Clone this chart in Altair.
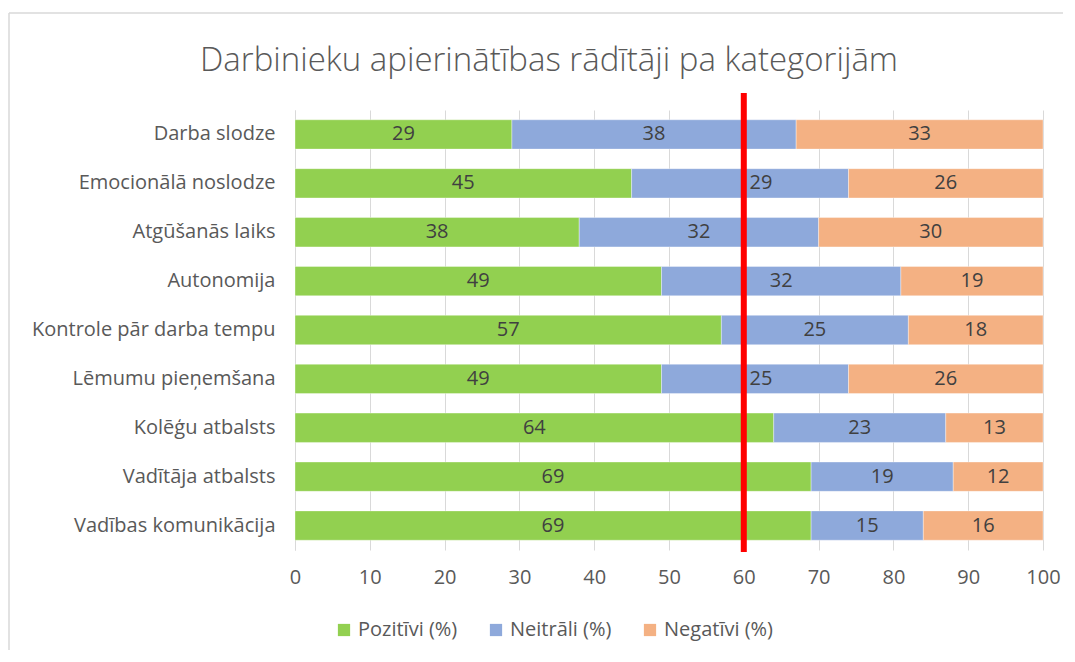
import altair as alt
import pandas as pd

categories = ["Darba slodze", "Emocionālā noslodze", "Atgūšanās laiks", "Autonomija",
              "Kontrole pār darba tempu", "Lēmumu pieņemšana", "Kolēģu atbalsts",
              "Vadītāja atbalsts", "Vadības komunikācija"]
pozitivi = [29, 45, 38, 49, 57, 49, 64, 69, 69]
neitrali = [38, 29, 32, 32, 25, 25, 23, 19, 15]
negativi = [33, 26, 30, 19, 18, 26, 13, 12, 16]
series = ["Pozitīvi (%)", "Neitrāli (%)", "Negatīvi (%)"]
colors = ["#92D050", "#8EA9DB", "#F4B183"]
threshold = [60]
title_text = "Darbinieku apierinātības rādītāji pa kategorijām"

rows = []
for i, c in enumerate(categories):
    for j, (s, vals) in enumerate(zip(series, [pozitivi, neitrali, negativi])):
        rows.append({"cat": c, "series": s, "value": vals[i], "ord": j})
df = pd.DataFrame(rows)

FONT = "Open Sans"
base = alt.Chart(df).transform_stack(
    stack="value", groupby=["cat"], as_=["x0", "x1"], sort=[alt.SortField("ord")]
).transform_calculate(
    mid="(datum.x0 + datum.x1) / 2"
).transform_calculate(
    lx="abs(datum.mid - 60) < 3 ? 62.3 : datum.mid"
)

y_enc = alt.Y("cat:N", sort=categories, title=None,
              scale=alt.Scale(paddingInner=0.4, paddingOuter=0.2),
              axis=alt.Axis(labelFontSize=20, labelColor="#595959", labelFont=FONT,
                            labelPadding=20, ticks=False, domainColor="#d9d9d9",
                            labelLimit=400))

bars = base.mark_bar(stroke="white", strokeWidth=0.6, strokeOpacity=0.6).encode(
    x=alt.X("x0:Q", scale=alt.Scale(domain=[0, 100]), title=None,
            axis=alt.Axis(values=list(range(0, 101, 10)), labelFontSize=20,
                          labelColor="#595959", labelFont=FONT, ticks=False,
                          labelFlush=False, domain=False, gridColor="#d9d9d9",
                          labelPadding=17)),
    x2="x1:Q",
    y=y_enc,
    color=alt.Color("series:N", sort=series,
                    scale=alt.Scale(domain=series, range=colors),
                    legend=alt.Legend(title=None, orient="none", direction="horizontal",
                                      legendX=39, legendY=510, symbolType="square",
                                      symbolSize=150, symbolStrokeWidth=0,
                                      labelFontSize=20, labelColor="#595959",
                                      labelFont=FONT, columnPadding=28)),
    order=alt.Order("ord:Q"),
)

rule = alt.Chart(pd.DataFrame({"t": threshold})).mark_rule(color="#FF0000", strokeWidth=6).encode(
    x=alt.X("t:Q"),
    y=alt.value(-17),
    y2=alt.value(442),
)

labels = base.mark_text(fontSize=20, color="#404040", font=FONT).encode(
    x=alt.X("lx:Q"),
    y=alt.Y("cat:N", sort=categories),
    text=alt.Text("value:Q"),
)

frame_df = pd.DataFrame({"f": [0]})
frame_top = alt.Chart(frame_df).mark_rule(color="#d9d9d9", strokeWidth=1.5).encode(
    x=alt.value(-286), x2=alt.value(768), y=alt.value(-97)
)
frame_left = alt.Chart(frame_df).mark_rule(color="#d9d9d9", strokeWidth=1.5).encode(
    x=alt.value(-286), y=alt.value(-97), y2=alt.value(600)
)

chart = alt.layer(frame_top, frame_left, bars, rule, labels).properties(
    width=748, height=440,
    title=alt.TitleParams(title_text, fontSize=33, font=FONT, fontWeight=300,
                          color="#595959", anchor="middle", dx=-120, dy=81, offset=15),
    autosize=alt.AutoSizeParams(type="none"),
    padding={"left": 287, "top": 102, "right": 20, "bottom": 100},
).configure_view(stroke=None)

chart.save("out.html", embed_options={"renderer": "svg", "actions": False})
